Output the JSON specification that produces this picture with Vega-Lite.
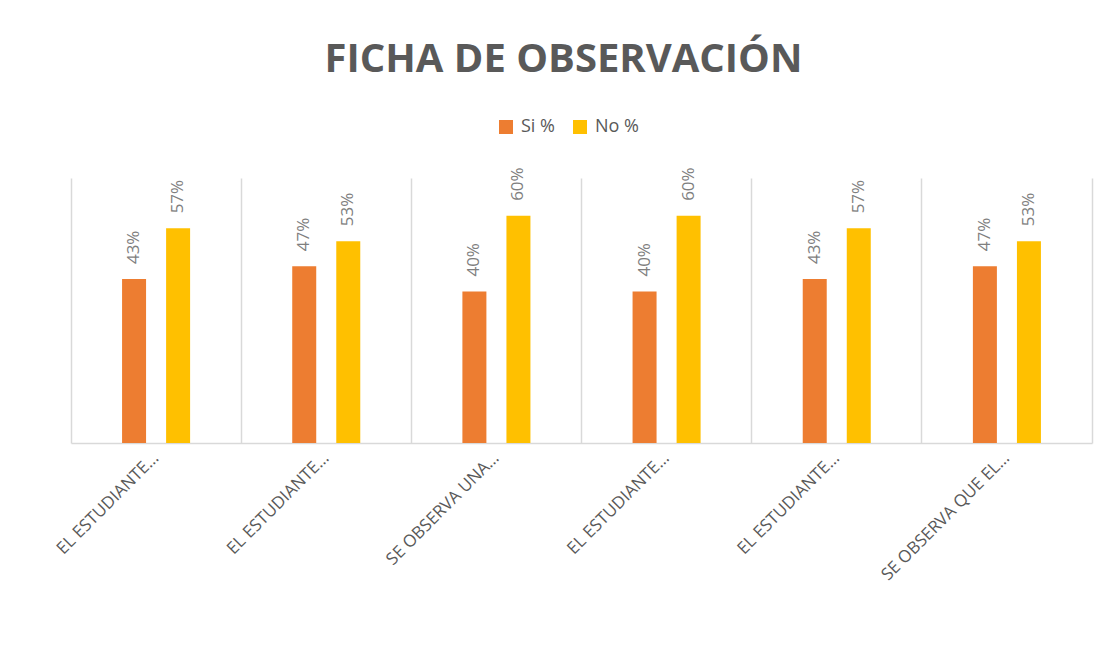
{
  "$schema": "https://vega.github.io/schema/vega-lite/v6.json",
  "width": 1021,
  "height": 265,
  "autosize": {"type": "none"},
  "padding": {"left": 71, "top": 178, "right": 20, "bottom": 204},
  "background": "white",
  "title": {
    "text": "FICHA DE OBSERVACIÓN",
    "font": "Open Sans",
    "fontSize": 40,
    "fontWeight": "bold",
    "color": "#595959",
    "anchor": "middle",
    "dx": -18,
    "offset": 38
  },
  "data": {
    "values": [
      {"item": 1, "serie": "Si %", "valor": 0.433},
      {"item": 1, "serie": "No %", "valor": 0.567},
      {"item": 2, "serie": "Si %", "valor": 0.467},
      {"item": 2, "serie": "No %", "valor": 0.533},
      {"item": 3, "serie": "Si %", "valor": 0.4},
      {"item": 3, "serie": "No %", "valor": 0.6},
      {"item": 4, "serie": "Si %", "valor": 0.4},
      {"item": 4, "serie": "No %", "valor": 0.6},
      {"item": 5, "serie": "Si %", "valor": 0.433},
      {"item": 5, "serie": "No %", "valor": 0.567},
      {"item": 6, "serie": "Si %", "valor": 0.467},
      {"item": 6, "serie": "No %", "valor": 0.533}
    ]
  },
  "encoding": {
    "x": {
      "field": "item",
      "type": "nominal",
      "scale": {"paddingInner": 0, "paddingOuter": 0},
      "axis": {
        "title": null,
        "bandPosition": 0,
        "grid": true,
        "gridColor": "#d9d9d9",
        "gridWidth": 1.5,
        "ticks": false,
        "domainColor": "#d9d9d9",
        "domainWidth": 1.5,
        "labelAngle": -45,
        "labelAlign": "right",
        "labelBaseline": "middle",
        "labelPadding": 12,
        "labelFont": "Open Sans",
        "labelFontSize": 17,
        "labelColor": "#595959",
        "labelLimit": 0,
        "labelOverlap": false,
        "labelExpr": "['EL ESTUDIANTE…','EL ESTUDIANTE…','SE OBSERVA UNA…','EL ESTUDIANTE…','EL ESTUDIANTE…','SE OBSERVA QUE EL…'][datum.value - 1]"
      }
    },
    "xOffset": {
      "field": "serie",
      "type": "nominal",
      "sort": ["Si %", "No %"],
      "scale": {"paddingInner": 0, "paddingOuter": 0.932}
    },
    "y": {
      "field": "valor",
      "type": "quantitative",
      "scale": {"domain": [0, 0.7]},
      "axis": {
        "orient": "right",
        "title": null,
        "labels": false,
        "ticks": false,
        "grid": false,
        "domainColor": "#d9d9d9",
        "domainWidth": 1.5
      }
    }
  },
  "layer": [
    {
      "mark": {"type": "bar", "size": 24},
      "encoding": {
        "color": {
          "field": "serie",
          "type": "nominal",
          "sort": ["Si %", "No %"],
          "scale": {"domain": ["Si %", "No %"], "range": ["#ED7D31", "#FFC000"]},
          "legend": {
            "title": null,
            "orient": "none",
            "direction": "horizontal",
            "legendX": 426,
            "legendY": -60,
            "symbolType": "square",
            "symbolSize": 196,
            "symbolStrokeWidth": 0,
            "symbolOpacity": 1,
            "labelFont": "Open Sans",
            "labelFontSize": 18,
            "labelColor": "#595959",
            "labelOffset": 6,
            "columnPadding": 16
          }
        }
      }
    },
    {
      "mark": {
        "type": "text",
        "angle": 270,
        "align": "left",
        "baseline": "middle",
        "dx": 15,
        "font": "Open Sans",
        "fontSize": 17,
        "color": "#7f7f7f"
      },
      "encoding": {
        "text": {"field": "valor", "type": "quantitative", "format": ".0%"}
      }
    }
  ],
  "config": {"view": {"stroke": null}}
}
